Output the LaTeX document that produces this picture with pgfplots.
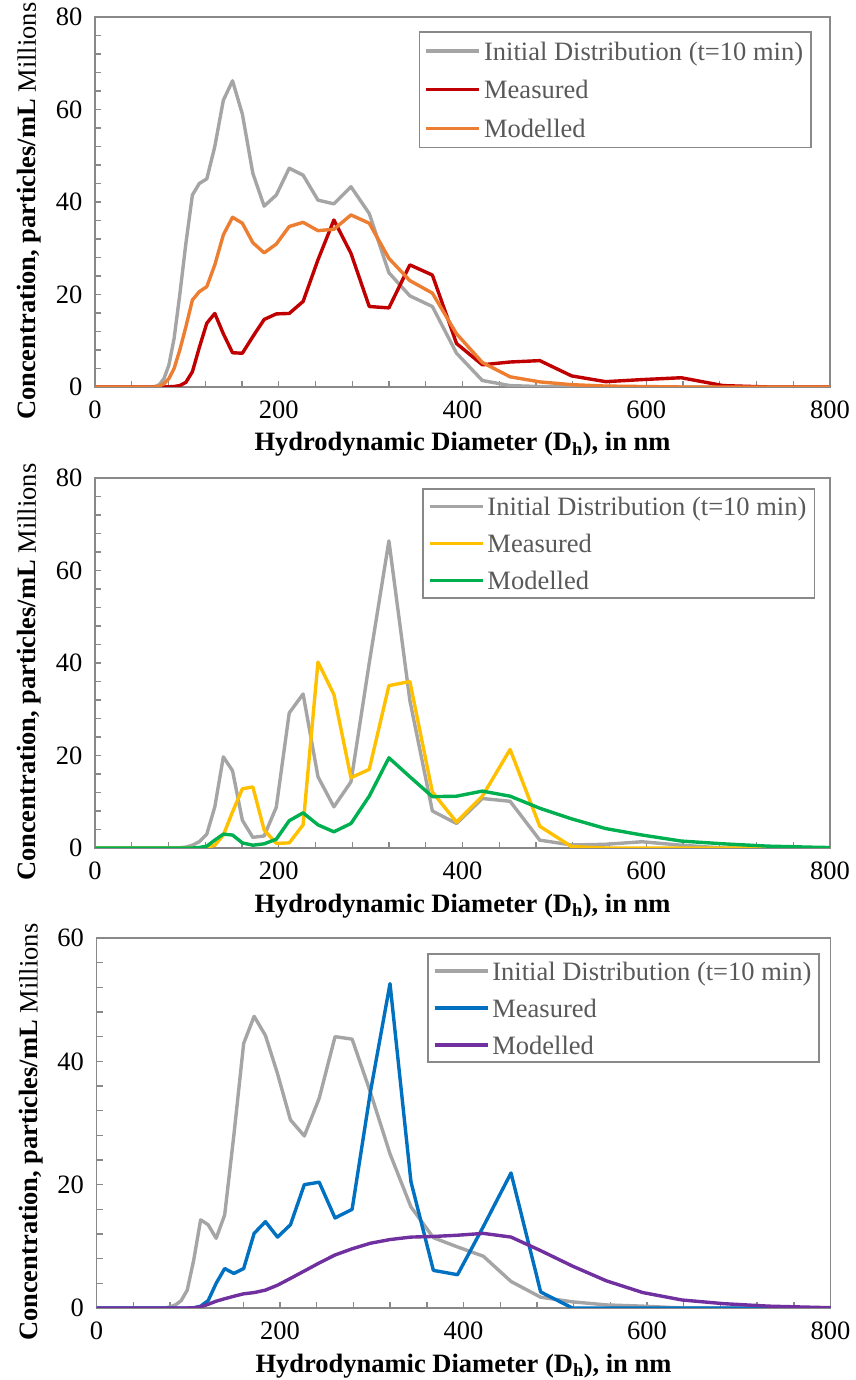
\documentclass[border=0pt]{standalone}
\usepackage{pgfplots}
\pgfplotsset{compat=1.18}
\usepackage{pgfplotstable}
\usepackage{fontspec}
\setmainfont{Liberation Serif}
\definecolor{cinit}{HTML}{A5A5A5}
\definecolor{cred}{HTML}{C00000}
\definecolor{corange}{HTML}{ED7D31}
\definecolor{cyellow}{HTML}{FFC000}
\definecolor{cgreen}{HTML}{00B050}
\definecolor{cblue}{HTML}{0070C0}
\definecolor{cpurple}{HTML}{7030A0}
\definecolor{axgray}{HTML}{898989}
\definecolor{legtext}{HTML}{595959}

\pgfplotstableread{
x     init  meas  model
0     0     0     0
61.0  0     0     0
65.3  0.1   0     0
70.0  0.5   0     0.2
75.0  1.8   0     0.7
80.4  4.7   0.05  1.8
86.1  10.5  0.1   4.0
92.3  20.0  0.3   8.0
98.9  31.0  1.0   13.0
106.0 41.5  3.3   18.8
113.5 44.0  8.5   20.6
121.7 45.0  13.8  21.7
130.4 52.0  15.9  26.4
139.7 62.0  11.5  32.9
149.7 66.2  7.4   36.7
160.4 59.0  7.3   35.4
171.8 46.2  10.9  31.2
184.1 39.1  14.6  29.0
197.3 41.5  15.8  30.9
211.4 47.3  15.9  34.7
226.5 45.8  18.5  35.6
242.7 40.4  27.5  33.8
260.0 39.6  36.1  34.1
278.6 43.3  28.9  37.2
298.5 37.5  17.4  35.4
319.9 24.7  17.1  27.8
342.7 19.7  26.4  23.0
367.2 17.4  24.2  20.3
393.5 7.3   9.4   11.5
421.6 1.4   4.8   5.3
451.8 0.3   5.4   2.2
484.1 0.1   5.7   1.1
518.7 0     2.4   0.5
555.8 0     1.15  0.2
595.5 0     1.6   0.1
638.1 0     2.0   0
683.7 0     0.3   0
732.6 0     0     0
785.0 0     0     0
800   0     0     0
}\tabA

\pgfplotstableread{
x     init  meas  model
0     0     0     0
61.0  0     0     0
86.1  0     0     0
92.3  0.05  0     0
98.9  0.2   0     0
106.0 0.6   0     0
113.5 1.35  0     0.1
121.7 3.0   0.1   0.4
130.4 8.9   0.6   1.7
139.7 19.7  2.8   3.0
149.7 16.7  7.8   2.8
160.4 6.0   12.8  1.1
171.8 2.3   13.2  0.6
184.1 2.6   3.9   0.9
197.3 8.8   1.0   1.9
211.4 29.2  1.1   5.9
226.5 33.3  5.0   7.6
242.7 15.4  40.2  5.0
260.0 8.9   33.2  3.5
278.6 14.3  15.2  5.3
298.5 40.0  17.0  11.2
319.9 66.4  35.1  19.5
342.7 31.9  36.0  15.4
367.2 8.0   12.1  11.1
393.5 5.3   5.6   11.2
421.6 10.7  11.2  12.3
451.8 10.1  21.3  11.2
484.1 1.7   4.7   8.6
518.7 0.65  0.3   6.3
555.8 0.8   0     4.2
595.5 1.35  0     2.8
638.1 0.6   0     1.5
683.7 0     0     0.9
732.6 0     0     0.4
785.0 0     0     0.15
800   0     0     0.1
}\tabB

\pgfplotstableread{
x     init  meas  model
0     0     0     0
61.0  0     0     0
75.0  0     0     0
80.4  0.2   0     0
86.1  0.5   0     0
92.3  1.2   0     0
98.9  2.9   0     0
106.0 7.8   0     0.05
113.5 14.3  0.3   0.2
121.7 13.5  1.2   0.6
130.4 11.3  4.0   1.1
139.7 15.1  6.4   1.5
149.7 28.0  5.6   1.9
160.4 42.9  6.4   2.3
171.8 47.3  12.1  2.5
184.1 44.2  14.0  2.9
197.3 38.0  11.5  3.7
211.4 30.5  13.5  4.8
226.5 27.9  20.0  6.0
242.7 34.0  20.4  7.3
260.0 44.0  14.6  8.6
278.6 43.6  16.0  9.6
298.5 35.0  35.0  10.5
319.9 25.0  52.6  11.1
342.7 16.4  20.5  11.5
367.2 11.4  6.1   11.6
393.5 9.9   5.4   11.8
421.6 8.4   13.2  12.1
451.8 4.3   21.9  11.5
484.1 1.75  2.6   9.3
518.7 1.0   0     6.8
555.8 0.5   0     4.4
595.5 0.3   0     2.5
638.1 0     0     1.3
683.7 0     0     0.7
732.6 0     0     0.3
785.0 0     0     0.1
800   0     0     0.05
}\tabC

\newcommand{\fs}{\fontsize{26.5}{30}\selectfont}
\newcommand{\rs}{\rule[-8pt]{0pt}{28pt}}

\pgfplotsset{
  panel/.style={
    scale only axis, width=735pt, height=370pt,
    xmin=0, xmax=800, ymin=0,
    xtick={0,200,...,800}, minor x tick num=4,
    minor y tick num=4,
    tick align=inside, xtick pos=left, ytick pos=left,
    major tick length=6pt, minor tick length=6pt,
    axis line style={draw=axgray, line width=1.8pt},
    every tick/.style={draw=axgray, line width=1.4pt},
    every minor tick/.style={draw=axgray, line width=1.4pt},
    tick label style={font=\fs, text=black},
    /pgf/number format/assume math mode=true,
    xticklabel style={yshift=-10pt},
    yticklabel style={xshift=-9pt},
    xlabel={\textbf{Hydrodynamic Diameter (D\textsubscript{h}), in nm}},
    xlabel style={at={(axis description cs:0.5,-0.173)}, anchor=base, font=\fs},
    ylabel={\textbf{Concentration, particles/mL} Millions},
    ylabel style={at={(axis description cs:-0.089,0.475)}, anchor=center, font=\fs},
    legend cell align=left,
    legend style={anchor=north east, draw=axgray, line width=1.8pt,
      fill=white, font=\fs, text=legtext, inner xsep=5pt,
      nodes={inner ysep=0pt, inner xsep=3pt}},
    legend image code/.code={\draw[#1, line width=3.6pt] (0pt,0pt) -- (53pt,0pt);},
    every axis plot/.append style={line width=3.4pt, line join=round, mark=none},
  }
}

\begin{document}
\begin{tikzpicture}
\path[use as bounding box] (0,0) rectangle (855pt,1380pt);

\begin{axis}[panel, at={(95pt,993pt)}, anchor=south west, ymax=80, ytick={0,20,...,80},
  legend style={at={(0.9755,0.962)}, row sep=17.4pt, inner ysep=8.1pt}]
\addplot[cinit] table[x=x, y=init] {\tabA};
\addlegendentry{\rs Initial Distribution (t=10 min)}
\addplot[cred] table[x=x, y=meas] {\tabA};
\addlegendentry{\rs Measured}
\addplot[corange] table[x=x, y=model] {\tabA};
\addlegendentry{\rs Modelled}
\end{axis}

\begin{axis}[panel, at={(95pt,532pt)}, anchor=south west, ymax=80, ytick={0,20,...,80},
  legend style={at={(0.980,0.972)}, row sep=15.4pt, inner ysep=6.6pt}]
\addplot[cinit] table[x=x, y=init] {\tabB};
\addlegendentry{\rs Initial Distribution (t=10 min)}
\addplot[cyellow] table[x=x, y=meas] {\tabB};
\addlegendentry{\rs Measured}
\addplot[cgreen] table[x=x, y=model] {\tabB};
\addlegendentry{\rs Modelled}
\end{axis}

\begin{axis}[panel, at={(96.5pt,72pt)}, anchor=south west, width=734pt, ymax=60, ytick={0,20,...,60},
  legend style={at={(0.986,0.960)}, row sep=15.4pt, inner ysep=6.6pt}]
\addplot[cinit] table[x=x, y=init] {\tabC};
\addlegendentry{\rs Initial Distribution (t=10 min)}
\addplot[cblue] table[x=x, y=meas] {\tabC};
\addlegendentry{\rs Measured}
\addplot[cpurple] table[x=x, y=model] {\tabC};
\addlegendentry{\rs Modelled}
\end{axis}
\end{tikzpicture}
\end{document}
